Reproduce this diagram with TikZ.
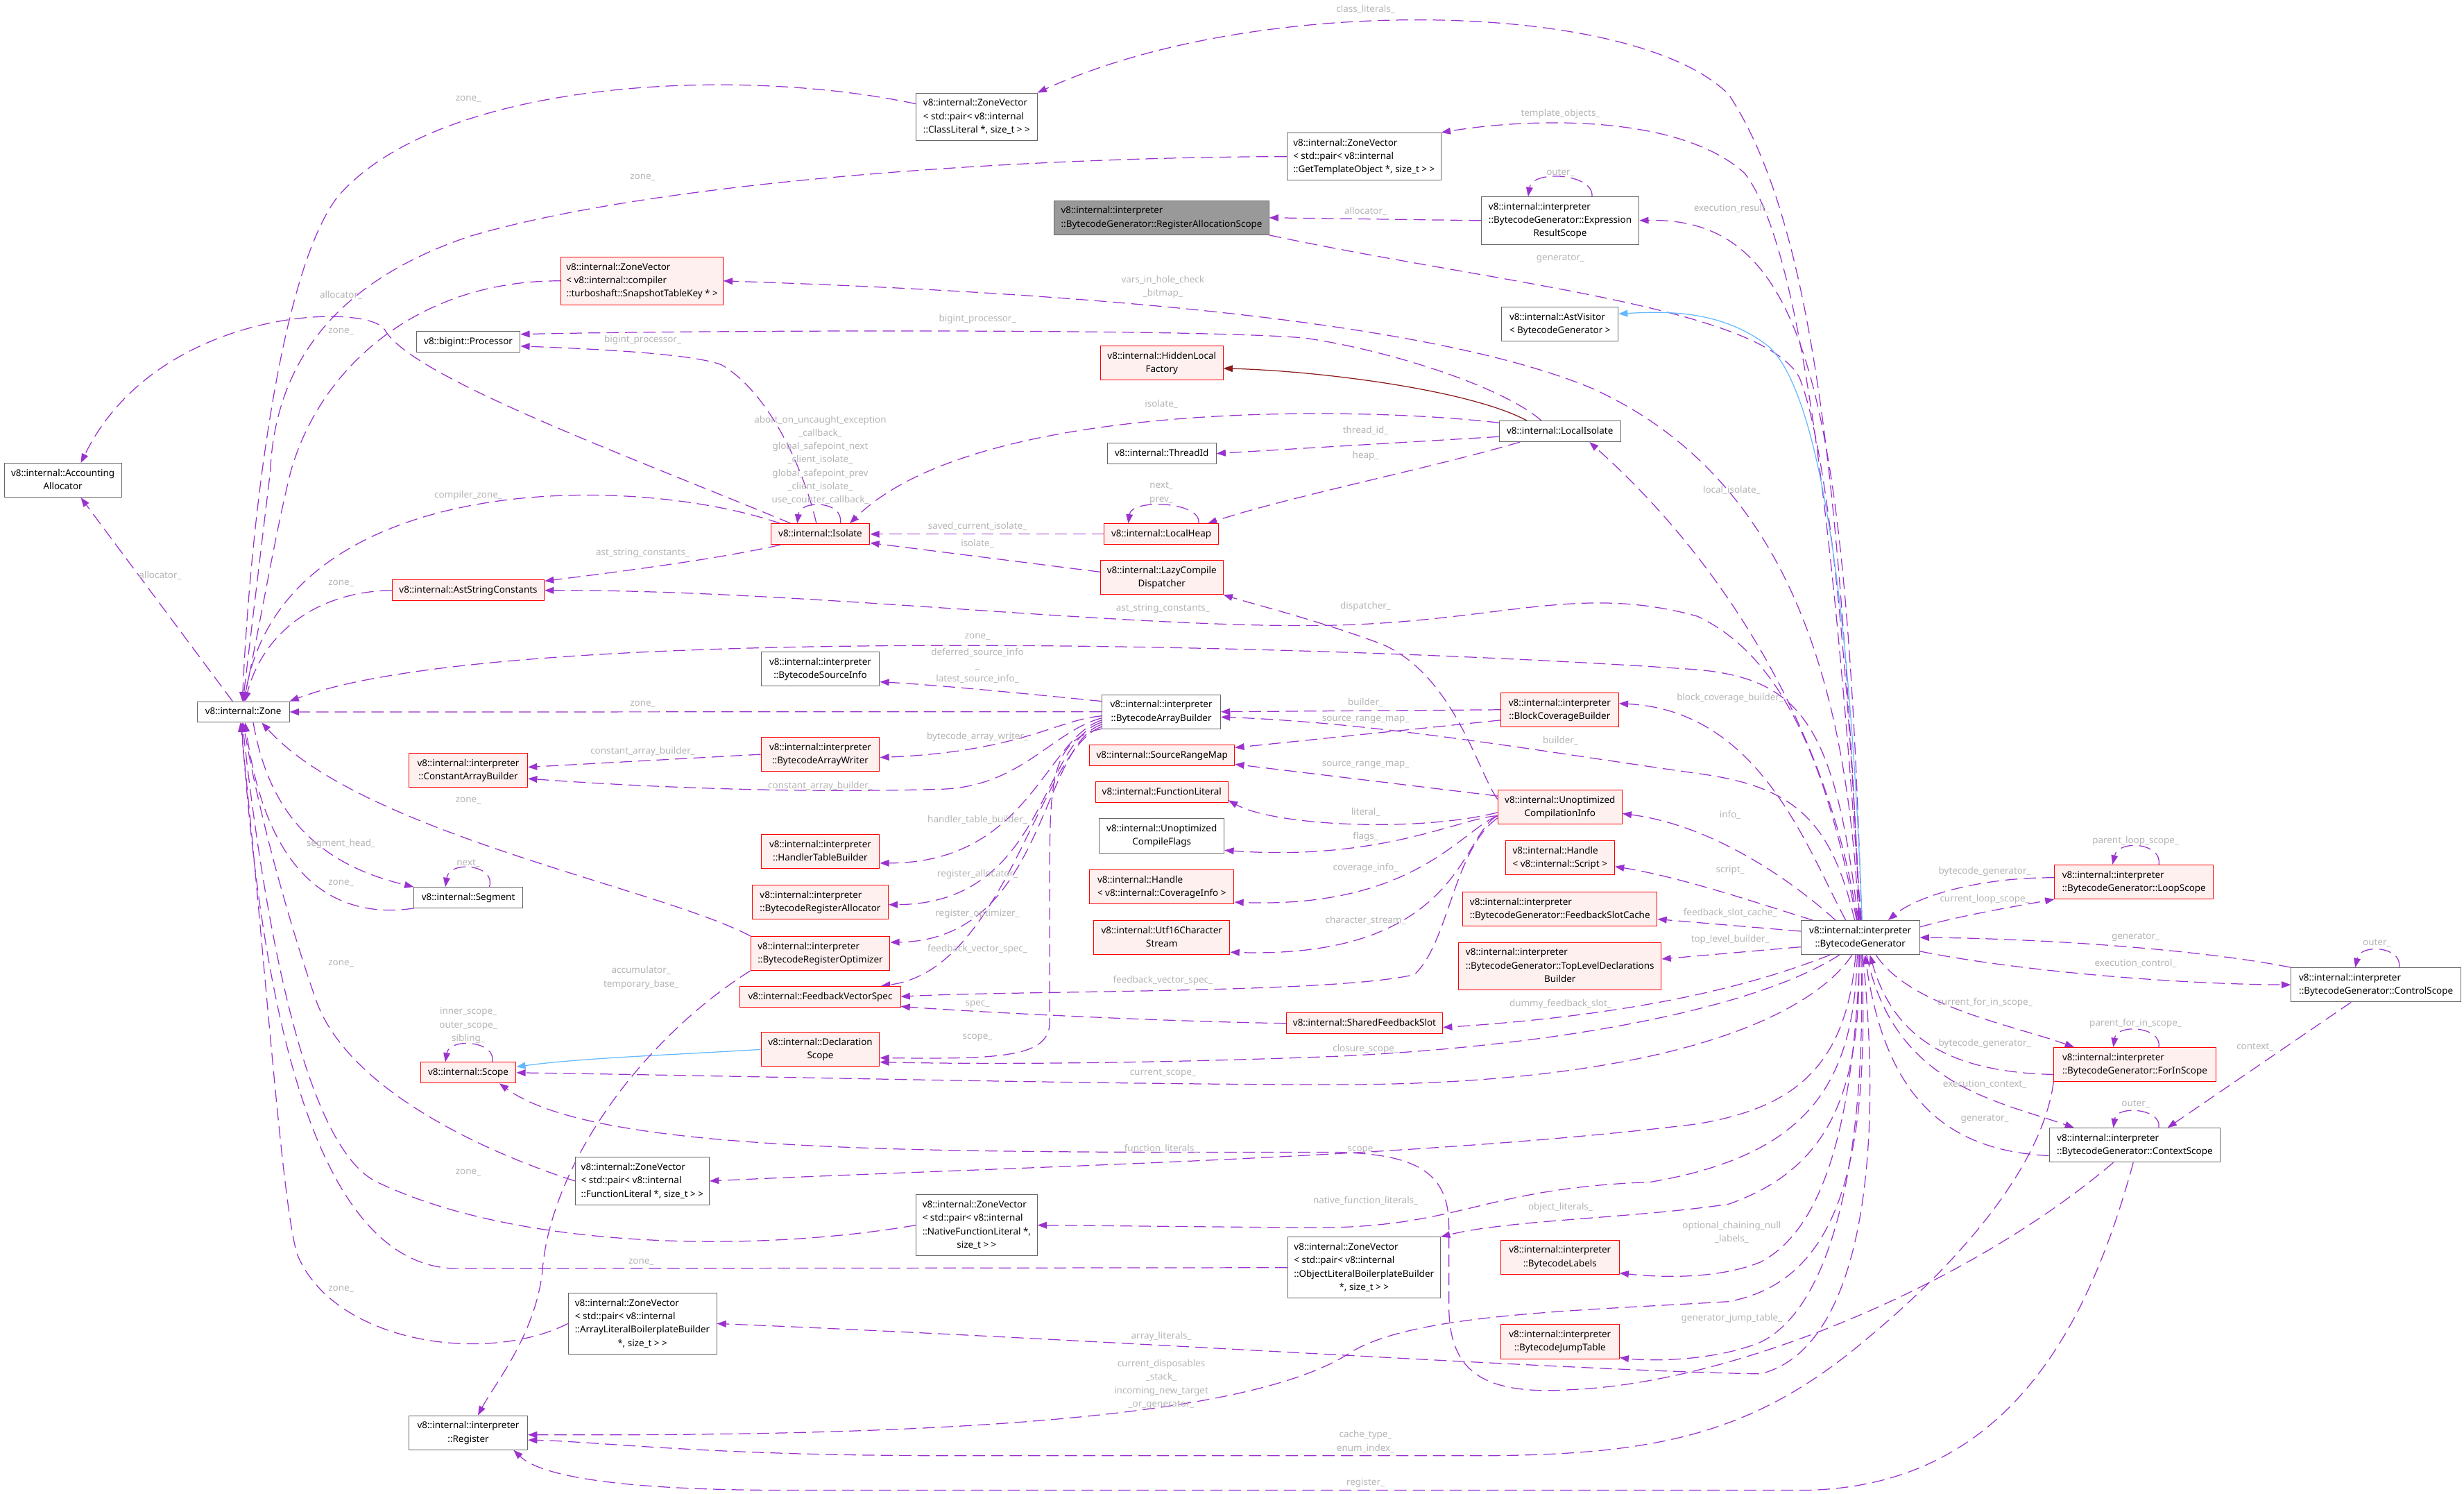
\documentclass[tikz,border=0pt]{standalone}
\usepackage{fontspec}
\setmainfont{Noto Sans}
\usetikzlibrary{arrows.meta,backgrounds}
\newcommand{\clsbox}[2]{\begin{tabular}{@{}l@{}}#1\multicolumn{1}{@{}c@{}}{#2}\end{tabular}}

\begin{document}
\begin{tikzpicture}[x=0.045cm, y=-0.045cm,
    every node/.style={font=\fontsize{7.6}{10.9}\selectfont},
    cbox/.style={draw=nodegray, fill=white, line width=0.55pt, inner xsep=3pt, inner ysep=3pt, minimum width=#1*0.045cm},
    tbox/.style={cbox=#1, draw=red, fill=truncfill},
    rbox/.style={cbox=#1, fill=rootfill},
    lbl/.style={text=lblgray, inner sep=0pt, align=center},
    usage/.style={draw=edgepurple, line width=0.7pt, dash pattern=on 10pt off 5pt, -{Triangle[length=7.5pt,width=5.5pt]}},
    pubinh/.style={draw=inhblue, line width=0.7pt, -{Triangle[length=7.5pt,width=5.5pt]}},
    privinh/.style={draw=privred, line width=0.7pt, -{Triangle[length=7.5pt,width=5.5pt]}}]
    \definecolor{edgepurple}{HTML}{9A32CD}
    \definecolor{inhblue}{HTML}{63B8FF}
    \definecolor{privred}{HTML}{8B1A1A}
    \definecolor{nodegray}{HTML}{666666}
    \definecolor{truncfill}{HTML}{FFF0F0}
    \definecolor{rootfill}{HTML}{999999}
    \definecolor{lblgray}{HTML}{B4B4B4}

    \useasboundingbox (0,0) rectangle (1568,950.4);

    % classes
    \node[cbox=74.6] (alloc) at (40,305.5) {\clsbox{v8::internal::Accounting\\}{Allocator}};
    \node[cbox=58.6] (zone) at (154.8,452.9) {\clsbox{}{v8::internal::Zone}};
    \node[cbox=77] (clzv) at (621.5,74.3) {\clsbox{v8::internal::ZoneVector\\< std::pair< v8::internal\\}{::ClassLiteral *, size\_t > >}};
    \node[cbox=98] (gtozv) at (868,99.6) {\clsbox{v8::internal::ZoneVector\\< std::pair< v8::internal\\}{::GetTemplateObject *, size\_t > >}};
    \node[rbox=136.5] (ras) at (739.2,138.5) {\clsbox{v8::internal::interpreter\\}{::BytecodeGenerator::RegisterAllocationScope}};
    \node[cbox=100.4] (ers) at (992.8,140.3) {\clsbox{v8::internal::interpreter\\::BytecodeGenerator::Expression\\}{ResultScope}};
    \node[tbox=103] (stkzv) at (408.6,178.7) {\clsbox{v8::internal::ZoneVector\\< v8::internal::compiler\\}{::turboshaft::SnapshotTableKey * >}};
    \node[cbox=66] (proc) at (298,217.3) {\clsbox{}{v8::bigint::Processor}};
    \node[cbox=74] (astvis) at (992.7,206.2) {\clsbox{v8::internal::AstVisitor\\}{< BytecodeGenerator >}};
    \node[tbox=78] (hlf) at (739.3,230.9) {\clsbox{v8::internal::HiddenLocal\\}{Factory}};
    \node[cbox=77] (lisol) at (992.7,274.4) {\clsbox{}{v8::internal::LocalIsolate}};
    \node[cbox=69.2] (tid) at (739.3,288.5) {\clsbox{}{v8::internal::ThreadId}};
    \node[tbox=63] (isol) at (522,339.8) {\clsbox{}{v8::internal::Isolate}};
    \node[tbox=72.5] (lheap) at (739,339.8) {\clsbox{}{v8::internal::LocalHeap}};
    \node[tbox=78] (lcd) at (739.3,367.3) {\clsbox{v8::internal::LazyCompile\\}{Dispatcher}};
    \node[tbox=96.7] (asc) at (298,375.6) {\clsbox{}{v8::internal::AstStringConstants}};
    \node[cbox=75.4] (bsi) at (522,425.7) {\clsbox{v8::internal::interpreter\\}{::BytecodeSourceInfo}};
    \node[cbox=75.4] (bab) at (739,452.8) {\clsbox{v8::internal::interpreter\\}{::BytecodeArrayBuilder}};
    \node[tbox=75] (bcb) at (992.5,451.5) {\clsbox{v8::internal::interpreter\\}{::BlockCoverageBuilder}};
    \node[tbox=75.5] (cab) at (298,490) {\clsbox{v8::internal::interpreter\\}{::ConstantArrayBuilder}};
    \node[tbox=75.4] (baw) at (522,479.9) {\clsbox{v8::internal::interpreter\\}{::BytecodeArrayWriter}};
    \node[tbox=92.3] (srm) at (739.5,480.5) {\clsbox{}{v8::internal::SourceRangeMap}};
    \node[tbox=84.5] (flit) at (739.3,503.9) {\clsbox{}{v8::internal::FunctionLiteral}};
    \node[tbox=79] (uci) at (992.7,513.4) {\clsbox{v8::internal::Unoptimized\\}{CompilationInfo}};
    \node[cbox=79.5] (ucf) at (739.3,531.7) {\clsbox{v8::internal::Unoptimized\\}{CompileFlags}};
    \node[tbox=75.4] (htb) at (522,541.7) {\clsbox{v8::internal::interpreter\\}{::HandlerTableBuilder}};
    \node[tbox=69.5] (hscript) at (992.7,545.7) {\clsbox{v8::internal::Handle\\}{< v8::internal::Script >}};
    \node[tbox=86.4] (bra) at (522,574) {\clsbox{v8::internal::interpreter\\}{::BytecodeRegisterAllocator}};
    \node[cbox=69] (seg) at (298,571) {\clsbox{}{v8::internal::Segment}};
    \node[tbox=92] (hci) at (739.3,564.1) {\clsbox{v8::internal::Handle\\}{< v8::internal::CoverageInfo >}};
    \node[tbox=123.7] (fsc) at (992.7,578.2) {\clsbox{v8::internal::interpreter\\}{::BytecodeGenerator::FeedbackSlotCache}};
    \node[cbox=75.4] (bgen) at (1183.8,596.4) {\clsbox{v8::internal::interpreter\\}{::BytecodeGenerator}};
    \node[tbox=101] (loop) at (1358,561) {\clsbox{v8::internal::interpreter\\}{::BytecodeGenerator::LoopScope}};
    \node[tbox=88.6] (bro) at (522,606.5) {\clsbox{v8::internal::interpreter\\}{::BytecodeRegisterOptimizer}};
    \node[tbox=86.7] (u16) at (739.3,596.5) {\clsbox{v8::internal::Utf16Character\\}{Stream}};
    \node[tbox=129] (tldb) at (992.7,614.6) {\clsbox{v8::internal::interpreter\\::BytecodeGenerator::TopLevelDeclarations\\}{Builder}};
    \node[tbox=102] (fvs) at (522,634) {\clsbox{}{v8::internal::FeedbackVectorSpec}};
    \node[cbox=108] (ctrl) at (1512,626.5) {\clsbox{v8::internal::interpreter\\}{::BytecodeGenerator::ControlScope}};
    \node[tbox=99.5] (sfs) at (868.3,651) {\clsbox{}{v8::internal::SharedFeedbackSlot}};
    \node[tbox=75.4] (dscope) at (522,667.6) {\clsbox{v8::internal::Declaration\\}{Scope}};
    \node[tbox=60.7] (scope) at (298,682.4) {\clsbox{}{v8::internal::Scope}};
    \node[tbox=103] (forin) at (1358.5,677.2) {\clsbox{v8::internal::interpreter\\}{::BytecodeGenerator::ForInScope}};
    \node[cbox=109] (ctx) at (1358.5,728.5) {\clsbox{v8::internal::interpreter\\}{::BytecodeGenerator::ContextScope}};
    \node[cbox=85.3] (flzv) at (408.7,751.3) {\clsbox{v8::internal::ZoneVector\\< std::pair< v8::internal\\}{::FunctionLiteral *, size\_t > >}};
    \node[cbox=77] (nflzv) at (621.5,779.4) {\clsbox{v8::internal::ZoneVector\\< std::pair< v8::internal\\::NativeFunctionLiteral *,\\}{size\_t > >}};
    \node[cbox=97.4] (olzv) at (868,806.4) {\clsbox{v8::internal::ZoneVector\\< std::pair< v8::internal\\::ObjectLiteralBoilerplateBuilder\\}{*, size\_t > >}};
    \node[tbox=75.4] (blabels) at (992.7,799.7) {\clsbox{v8::internal::interpreter\\}{::BytecodeLabels}};
    \node[cbox=94.4] (alzv) at (408.8,842) {\clsbox{v8::internal::ZoneVector\\< std::pair< v8::internal\\::ArrayLiteralBoilerplateBuilder\\}{*, size\_t > >}};
    \node[tbox=75.4] (bjt) at (992.7,853.5) {\clsbox{v8::internal::interpreter\\}{::BytecodeJumpTable}};
    \node[cbox=75.5] (reg) at (298,911.4) {\clsbox{v8::internal::interpreter\\}{::Register}};

    \begin{scope}[on background layer]
    % zone_ members
    \draw[usage] (clzv.168) .. controls (470,42) and (280,50) .. (215,125) .. controls (180,170) and (160,320) .. (zone.95);
    \draw[usage] (gtozv.west) .. controls (650,100) and (420,115) .. (300,150) .. controls (215,178) and (175,230) .. (172,300) -- (zone.92);
    \draw[usage] (stkzv.west) .. controls (270,178) and (205,230) .. (185,300) .. controls (175,340) and (165,400) .. (zone.88);
    \draw[usage] (isol.165) .. controls (400,300) and (180,300) .. (zone.85);
    \draw[usage] (asc.west) .. controls (205,376) and (168,400) .. (zone.80);
    \draw[usage] (bgen.97) .. controls (1168,460) and (1145,432) .. (1080,426) .. controls (850,410) and (320,395) .. (zone.north east);
    \draw[usage] (bab.west) -- (zone.east);
    \draw[usage] (bro.north west) .. controls (420,565) and (230,530) .. (zone.-30);
    \draw[usage] (seg.south west) .. controls (215,585) and (170,560) .. (zone.-80);
    \draw[usage] (flzv.west) .. controls (300,730) and (220,690) .. (201,636) .. controls (185,590) and (165,520) .. (zone.-90);
    \draw[usage] (nflzv.west) .. controls (480,797) and (330,795) .. (240,752) .. controls (200,733) and (172,620) .. (zone.-95);
    \draw[usage] (olzv.west) -- (290,807) .. controls (195,805) and (165,620) .. (zone.-100);
    \draw[usage] (alzv.west) .. controls (310,868) and (215,855) .. (190,800) .. controls (180,778) and (168,600) .. (zone.-105);
    \draw[usage] (zone.-47) .. controls (170,510) and (195,548) .. (seg.north west);
    \draw[usage] (seg.27) .. controls (316,550) and (286,547) .. (seg.155);

    % allocator_, bigint_processor_
    \draw[usage] (zone.135) -- (alloc.-44);
    \draw[usage] (isol.160) .. controls (400,290) and (262,240) .. (245,210) .. controls (235,192) and (100,195) .. (alloc.44);
    \draw[usage] (isol.110) .. controls (512,300) and (490,250) .. (459,232) .. controls (440,225) and (380,222) .. (proc.-5);
    \draw[usage] (lisol.150) .. controls (955,245) and (880,222) .. (830,215) .. controls (760,209) and (450,210) .. (proc.8);

    % isolate
    \draw[usage] (isol.28) .. controls (537,318) and (509,318) .. (isol.155);
    \draw[usage] (lisol.172) .. controls (860,258) and (620,255) .. (isol.20);
    \draw[usage] (lheap.west) -- (isol.east);
    \draw[usage] (lcd.175) -- (isol.-10);
    \draw[usage] (isol.-165) .. controls (460,355) and (400,363) .. (asc.7);
    \draw[usage] (bgen.102) .. controls (1165,500) and (1140,420) .. (1080,392) .. controls (1000,370) and (950,398) .. (830,398) .. controls (700,398) and (500,375) .. (asc.east);

    % local isolate
    \draw[privinh] (lisol.162) .. controls (935,248) and (840,236) .. (hlf.-5);
    \draw[usage] (lisol.-175) -- (tid.east);
    \draw[usage] (lisol.-165) .. controls (910,298) and (820,316) .. (lheap.13);
    \draw[usage] (lheap.16) .. controls (765,319) and (720,317) .. (lheap.162);
    \draw[usage] (bgen.100) .. controls (1165,470) and (1100,360) .. (lisol.-20);
    \draw[usage] (uci.173) .. controls (940,490) and (925,430) .. (880,410) .. controls (840,395) and (800,385) .. (lcd.south east);

    % upper members of the generator
    \draw[usage] (ers.37) .. controls (1014,110) and (975,108) .. (ers.143);
    \draw[usage] (ers.west) -- (ras.east);
    \draw[usage] (ras.south east) .. controls (950,180) and (1120,195) .. (1145,240) .. controls (1165,290) and (1178,450) .. (bgen.93);
    \draw[usage] (bgen.90) .. controls (1172,350) and (1160,150) .. (1100,60) .. controls (1040,0) and (800,-5) .. (clzv.north east);
    \draw[usage] (bgen.88) .. controls (1170,380) and (1150,160) .. (1110,110) .. controls (1070,74) and (980,74) .. (gtozv.north east);
    \draw[usage] (bgen.86) .. controls (1175,250) and (1150,138) .. (ers.east);
    \draw[pubinh] (bgen.84) .. controls (1178,400) and (1160,250) .. (1125,220) .. controls (1095,197) and (1060,198) .. (astvis.10);
    \draw[usage] (bgen.95) .. controls (1175,420) and (1130,300) .. (1013,247) .. controls (900,200) and (650,185) .. (stkzv.east);

    % array builder
    \draw[usage] (bcb.west) -- (bab.east);
    \draw[usage] (bgen.108) .. controls (1165,520) and (1140,500) .. (1080,492) .. controls (980,478) and (880,460) .. (bab.-5);
    \draw[usage] (bab.170) .. controls (660,442) and (600,436) .. (bsi.-12);
    \draw[usage] (bab.-176) .. controls (672,458) and (650,478) .. (baw.-3);
    \draw[usage] (bab.-174) .. controls (670,465) and (650,500) .. (600,502) .. controls (500,505) and (400,500) .. (cab.-8);
    \draw[usage] (baw.west) -- (cab.3);
    \draw[usage] (bab.-172) .. controls (665,470) and (655,549) .. (htb.-11);
    \draw[usage] (bab.-170) .. controls (662,472) and (665,575) .. (bra.-2);
    \draw[usage] (bab.-168) .. controls (662,474) and (665,598) .. (bro.9);
    \draw[usage] (bab.-166) .. controls (662,476) and (640,617) .. (fvs.10);
    \draw[usage] (bab.-164) .. controls (668,470) and (668,500) .. (668,560) -- (668,650) .. controls (668,672) and (640,674) .. (dscope.-8);

    % compilation info
    \draw[usage] (bcb.-170) -- (srm.6);
    \draw[usage] (uci.170) -- (srm.-7);
    \draw[usage] (bgen.130) .. controls (1150,540) and (1120,452) .. (bcb.6);
    \draw[usage] (bgen.145) .. controls (1140,560) and (1090,525) .. (uci.-6);
    \draw[usage] (bgen.160) .. controls (1120,575) and (1070,558) .. (hscript.-9);
    \draw[usage] (bgen.174) -- (fsc.-6);
    \draw[usage] (bgen.-171) -- (tldb.4);
    \draw[usage] (uci.-175) .. controls (900,530) and (810,525) .. (flit.-7);
    \draw[usage] (uci.-172) .. controls (930,520) and (880,548) .. (ucf.-13);
    \draw[usage] (uci.-172) .. controls (930,528) and (900,578) .. (hci.-12);
    \draw[usage] (uci.-172) .. controls (930,530) and (930,610) .. (u16.-12);
    \draw[usage] (uci.-170) .. controls (925,540) and (922,600) .. (900,620) .. controls (850,632) and (650,630) .. (fvs.east);

    % feedback and scopes
    \draw[usage] (bgen.-150) .. controls (1120,625) and (1050,645) .. (sfs.-3);
    \draw[usage] (sfs.west) .. controls (750,650) and (640,645) .. (fvs.-7);
    \draw[usage] (bgen.-140) .. controls (1120,640) and (1000,665) .. (850,672) .. controls (720,677) and (620,677) .. (dscope.-12);
    \draw[usage] (bgen.-115) .. controls (1150,650) and (1050,690) .. (850,690) .. controls (700,690) and (450,684) .. (scope.east);
    \draw[pubinh] (dscope.west) .. controls (430,671) and (370,673) .. (scope.7);
    \draw[usage] (scope.24) .. controls (316,662) and (286,660) .. (scope.155);

    % lower members of the generator
    \draw[usage] (bgen.-105) .. controls (1175,680) and (1140,705) .. (1080,715) .. controls (900,737) and (650,742) .. (flzv.east);
    \draw[usage] (bgen.-100) .. controls (1180,690) and (1150,735) .. (1050,752) .. controls (940,756) and (930,782) .. (830,781) -- (nflzv.east);
    \draw[usage] (bgen.-95) .. controls (1185,700) and (1160,745) .. (1100,766) .. controls (1040,775) and (960,776) .. (olzv.north east);
    \draw[usage] (bgen.-92) .. controls (1180,700) and (1165,780) .. (1120,803) .. controls (1090,815) and (1050,812) .. (blabels.-15);
    \draw[usage] (bgen.-88) .. controls (1188,720) and (1170,830) .. (1120,854) .. controls (1090,866) and (1050,866) .. (bjt.-15);
    \draw[usage] (bgen.-82) .. controls (1200,750) and (1180,860) .. (1120,874) .. controls (1000,872) and (700,852) .. (alzv.east);
    \draw[usage] (bgen.-85) .. controls (1190,740) and (1170,815) .. (1100,828) .. controls (1000,834) and (900,836) .. (860,860) .. controls (800,900) and (620,914) .. (reg.-2);

    % registers and scope of inner scopes
    \draw[usage] (ctx.-141) .. controls (1250,820) and (1100,880) .. (1000,884) .. controls (940,888) and (922,870) .. (922,830) -- (922,780) .. controls (922,745) and (900,734) .. (850,733) .. controls (600,733) and (380,735) .. (scope.-19);
    \draw[usage] (ctx.-95) .. controls (1330,840) and (1280,945) .. (1150,948) -- (500,948) .. controls (400,948) and (345,940) .. (reg.-21);
    \draw[usage] (forin.south west) .. controls (1300,740) and (1250,800) .. (1190,850) .. controls (1120,910) and (1060,925) .. (950,926) -- (600,926) .. controls (450,926) and (380,917) .. (reg.-7);
    \draw[usage] (bro.south west) .. controls (410,660) and (350,740) .. (345,810) .. controls (340,850) and (315,880) .. (reg.61);

    % loop, control, for-in and context scopes
    \draw[usage] (loop.177) .. controls (1260,558) and (1220,570) .. (bgen.32);
    \draw[usage] (bgen.10) .. controls (1250,582) and (1280,577) .. (loop.south west);
    \draw[usage] (loop.35) .. controls (1376,536) and (1348,534) .. (loop.141);
    \draw[usage] (ctrl.north west) .. controls (1400,604) and (1300,597) .. (bgen.east);
    \draw[usage] (bgen.-13) .. controls (1280,617) and (1380,626) .. (ctrl.west);
    \draw[usage] (ctrl.37) .. controls (1529,602) and (1502,600) .. (ctrl.140);
    \draw[usage] (ctrl.-145) -- (ctx.28);
    \draw[usage] (bgen.-48) .. controls (1215,640) and (1280,652) .. (forin.164);
    \draw[usage] (forin.-173) .. controls (1240,682) and (1205,660) .. (bgen.-61);
    \draw[usage] (forin.36) .. controls (1376,653) and (1347,651) .. (forin.141);
    \draw[usage] (bgen.-70) .. controls (1205,690) and (1270,700) .. (ctx.164);
    \draw[usage] (ctx.-173) .. controls (1240,732) and (1200,700) .. (bgen.-75);
    \draw[usage] (ctx.36) .. controls (1376,705) and (1347,703) .. (ctx.141);
    \end{scope}

    % member labels
    \node[lbl] (lz1) at (298,63) {zone\_};
    \node[lbl] (lz2) at (409,113) {zone\_};
    \node[lbl] (lz3) at (217,211) {zone\_};
    \node[lbl] (lz4) at (217,371) {zone\_};
    \node[lbl] (lz5) at (622,405) {zone\_};
    \node[lbl] (lz6) at (409,448) {zone\_};
    \node[lbl] (lz7) at (298,509.5) {zone\_};
    \node[lbl] (lz8) at (217,562) {zone\_};
    \node[lbl] (lz9) at (217,613) {zone\_};
    \node[lbl] (lz10) at (298,746) {zone\_};
    \node[lbl] (lz11) at (408,803) {zone\_};
    \node[lbl] (lz12) at (217,820) {zone\_};
    \node[lbl] (lalloc1) at (217,188) {allocator\_};
    \node[lbl] (lalloc2) at (102,366) {allocator\_};
    \node[lbl] (lbig1) at (409,216.5) {bigint\_processor\_};
    \node[lbl] (lbig2) at (622,203) {bigint\_processor\_};
    \node[lbl] (lczone) at (298,315) {compiler\_zone\_};
    \node[lbl] (liloop) at (522,292.6) {abort\_on\_uncaught\_exception\\\_callback\_\\global\_safepoint\_next\\\_client\_isolate\_\\global\_safepoint\_prev\\\_client\_isolate\_\\use\_counter\_callback\_};
    \node[lbl] (lasc1) at (409,352) {ast\_string\_constants\_};
    \node[lbl] (lasc2) at (740,387) {ast\_string\_constants\_};
    \node[lbl] (lcab1) at (409,478) {constant\_array\_builder\_};
    \node[lbl] (lcab2) at (522,500) {constant\_array\_builder\_};
    \node[lbl] (lseghead) at (217,537) {segment\_head\_};
    \node[lbl] (lsegnext) at (298,549) {next\_};
    \node[lbl] (lacc) at (408,622) {accumulator\_\\temporary\_base\_};
    \node[lbl] (lscloop) at (298,652.3) {inner\_scope\_\\outer\_scope\_\\sibling\_};
    \node[lbl] (lclass) at (869,6) {class\_literals\_};
    \node[lbl] (ltmpl) at (993,72.4) {template\_objects\_};
    \node[lbl] (lersouter) at (993,110) {outer\_};
    \node[lbl] (lersalloc) at (869,134.4) {allocator\_};
    \node[lbl] (lexecres) at (1102,132.8) {execution\_result\_};
    \node[lbl] (lgen1) at (993,164.6) {generator\_};
    \node[lbl] (lvars) at (740,182.5) {vars\_in\_hole\_check\\\_bitmap\_};
    \node[lbl] (lisol1) at (739,257) {isolate\_};
    \node[lbl] (ltid) at (869,273.7) {thread\_id\_};
    \node[lbl] (lheap) at (869,290) {heap\_};
    \node[lbl] (llocal) at (1102,311.8) {local\_isolate\_};
    \node[lbl] (lheaploop) at (739,313.7) {next\_\\prev\_};
    \node[lbl] (lsaved) at (622,335) {saved\_current\_isolate\_};
    \node[lbl] (lisol2) at (622,346) {isolate\_};
    \node[lbl] (ldisp) at (869,386) {dispatcher\_};
    \node[lbl] (lsrcinfo) at (622,423.6) {deferred\_source\_info\\\_\\latest\_source\_info\_};
    \node[lbl] (lbuild1) at (869,447) {builder\_};
    \node[lbl] (lsrm1) at (869,458) {source\_range\_map\_};
    \node[lbl] (lbcb) at (1101,444) {block\_coverage\_builder\_};
    \node[lbl] (lbaw) at (622,469) {bytecode\_array\_writer\_};
    \node[lbl] (lbuild2) at (993,471.4) {builder\_};
    \node[lbl] (lsrm2) at (869,486.6) {source\_range\_map\_};
    \node[lbl] (llit) at (869,516.6) {literal\_};
    \node[lbl] (linfo) at (1101,518.6) {info\_};
    \node[lbl] (lhtb) at (622,521.6) {handler\_table\_builder\_};
    \node[lbl] (lflags) at (869,532.4) {flags\_};
    \node[lbl] (lcov) at (869,552.4) {coverage\_info\_};
    \node[lbl] (lscript) at (1101,553.5) {script\_};
    \node[lbl] (lbra) at (622,556) {register\_allocator\_};
    \node[lbl] (lbro) at (622,581.4) {register\_optimizer\_};
    \node[lbl] (lfsc) at (1101,580.8) {feedback\_slot\_cache\_};
    \node[lbl] (lchar) at (869,585.5) {character\_stream\_};
    \node[lbl] (ltop) at (1101,597.9) {top\_level\_builder\_};
    \node[lbl] (lfvs1) at (622,603.7) {feedback\_vector\_spec\_};
    \node[lbl] (lfvs2) at (740,623.6) {feedback\_vector\_spec\_};
    \node[lbl] (lspec) at (622,639) {spec\_};
    \node[lbl] (ldummy) at (993,638.8) {dummy\_feedback\_slot\_};
    \node[lbl] (lscope1) at (622,660.3) {scope\_};
    \node[lbl] (lclosure) at (869,667.3) {closure\_scope\_};
    \node[lbl] (lcurscope) at (740,682.6) {current\_scope\_};
    \node[lbl] (lfunlit) at (739,730.8) {function\_literals\_};
    \node[lbl] (lscope2) at (867,731.8) {scope\_};
    \node[lbl] (lnative) at (869,763.9) {native\_function\_literals\_};
    \node[lbl] (lobj) at (993,767.9) {object\_literals\_};
    \node[lbl] (lopt) at (1102,784) {optional\_chaining\_null\\\_labels\_};
    \node[lbl] (ljump) at (1102,838.6) {generator\_jump\_table\_};
    \node[lbl] (larray) at (739,850) {array\_literals\_};
    \node[lbl] (ldispose) at (739,880.7) {current\_disposables\\\_stack\_\\incoming\_new\_target\\\_or\_generator\_};
    \node[lbl] (lcache) at (869,917) {cache\_type\_\\enum\_index\_};
    \node[lbl] (lreg) at (869,943.4) {register\_};
    \node[lbl] (lploop) at (1359,535.2) {parent\_loop\_scope\_};
    \node[lbl] (lbgen1) at (1263,554.3) {bytecode\_generator\_};
    \node[lbl] (lcurloop) at (1263,571.9) {current\_loop\_scope\_};
    \node[lbl] (lgen2) at (1359,596.2) {generator\_};
    \node[lbl] (lctrlouter) at (1512.5,600) {outer\_};
    \node[lbl] (lexecctl) at (1359,613) {execution\_control\_};
    \node[lbl] (lcurforin) at (1263,637.8) {current\_for\_in\_scope\_};
    \node[lbl] (lpforin) at (1359,651.3) {parent\_for\_in\_scope\_};
    \node[lbl] (lbgen2) at (1263,663.9) {bytecode\_generator\_};
    \node[lbl] (lcontext) at (1435,666.3) {context\_};
    \node[lbl] (lexecctx) at (1263,689.6) {execution\_context\_};
    \node[lbl] (lctxouter) at (1359,702.3) {outer\_};
    \node[lbl] (lgen3) at (1263,711.7) {generator\_};
\end{tikzpicture}
\end{document}
